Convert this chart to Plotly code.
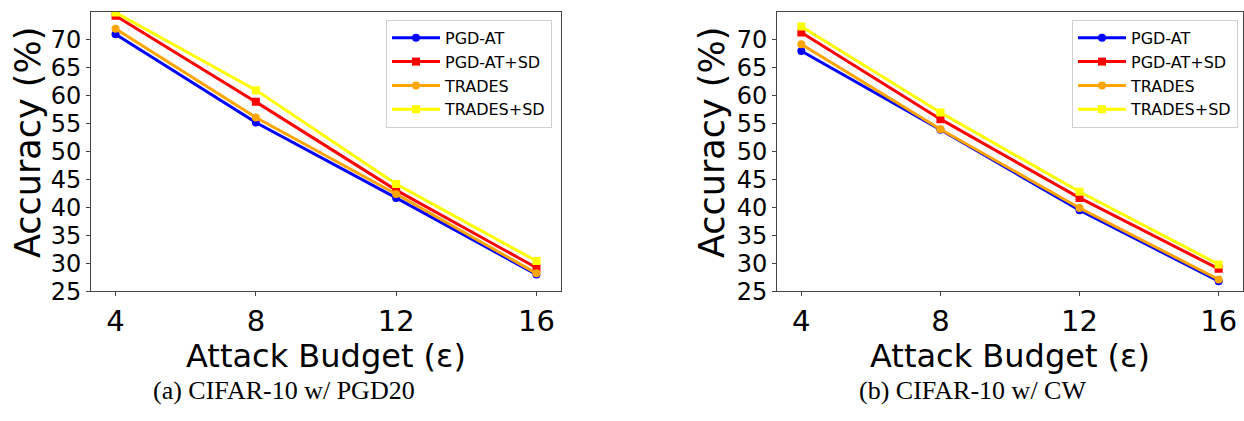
import plotly.graph_objects as go

budgets = [4, 8, 12, 16]
series_names = ["PGD-AT", "PGD-AT+SD", "TRADES", "TRADES+SD"]
series_colors = ["#0000ff", "#ff0000", "#ffa500", "#ffff00"]
series_symbols = ["circle", "square", "circle", "square"]

# (a) CIFAR-10 w/ PGD20
pgd20_pgdat = [71.0, 55.2, 41.7, 28.0]
pgd20_pgdat_sd = [74.3, 58.9, 43.1, 29.2]
pgd20_trades = [72.0, 56.1, 42.4, 28.2]
pgd20_trades_sd = [74.9, 61.0, 44.2, 30.4]

# (b) CIFAR-10 w/ CW
cw_pgdat = [68.0, 53.9, 39.5, 26.8]
cw_pgdat_sd = [71.3, 55.8, 41.7, 29.0]
cw_trades = [69.2, 54.0, 39.9, 27.1]
cw_trades_sd = [72.4, 57.0, 42.8, 29.8]

y_ticks = [25, 30, 35, 40, 45, 50, 55, 60, 65, 70]
x_label = "Attack Budget (ε)"
y_label = "Accuracy (%)"
captions = ["(a) CIFAR-10 w/ PGD20", "(b) CIFAR-10 w/ CW"]

W, H = 1244, 421
HV = 409.5  # vertical reference used for placing elements


def py(px):
    return 1 - px / HV


fig = go.Figure()

panels = [
    ([pgd20_pgdat, pgd20_pgdat_sd, pgd20_trades, pgd20_trades_sd], "x", "y", "legend"),
    ([cw_pgdat, cw_pgdat_sd, cw_trades, cw_trades_sd], "x2", "y2", "legend2"),
]
for data, xa, ya, lg in panels:
    for name, vals, col, sym in zip(series_names, data, series_colors, series_symbols):
        fig.add_trace(go.Scatter(
            x=budgets, y=vals, name=name, mode="lines+markers",
            line=dict(color=col, width=3),
            marker=dict(color=col, symbol=sym, size=8),
            xaxis=xa, yaxis=ya, legend=lg,
        ))

axis_common = dict(
    showline=True, linecolor="#444", linewidth=1, mirror=True,
    ticks="outside", ticklen=4, tickcolor="#444", showgrid=False, zeroline=False,
)
xdom1 = [91 / W, 561 / W]
xdom2 = [777 / W, 1243 / W]
ydom = [py(293), py(12)]

legend_common = dict(
    y=py(20), xanchor="right", yanchor="top",
    bgcolor="rgba(255,255,255,0.8)", bordercolor="#d0d0d0", borderwidth=1,
    font=dict(size=16), tracegroupgap=0, itemwidth=48,
)

fig.update_layout(
    width=W, height=H, autosize=False, margin=dict(l=0, r=0, t=0, b=0),
    paper_bgcolor="white", plot_bgcolor="white",
    font=dict(family="DejaVu Sans", color="black"),
    xaxis=dict(domain=xdom1, range=[3.3, 16.7], tickvals=budgets,
               tickfont=dict(size=29), anchor="y", **axis_common),
    yaxis=dict(domain=ydom, range=[25, 75], tickvals=y_ticks,
               tickfont=dict(size=24), anchor="x", **axis_common),
    xaxis2=dict(domain=xdom2, range=[3.3, 16.7], tickvals=budgets,
                tickfont=dict(size=29), anchor="y2", **axis_common),
    yaxis2=dict(domain=ydom, range=[25, 75], tickvals=y_ticks,
                tickfont=dict(size=24), anchor="x2", **axis_common),
    legend=dict(x=552 / W, **legend_common),
    legend2=dict(x=1238 / W, **legend_common),
    showlegend=True,
)

annotations = []
for xd, ycx, capx, cap in [(xdom1, 28, 284, captions[0]), (xdom2, 712, 972, captions[1])]:
    annotations.append(dict(text=x_label, x=(xd[0] + xd[1]) / 2, y=py(337),
                            xref="paper", yref="paper", showarrow=False,
                            xanchor="center", yanchor="top", font=dict(size=32)))
    annotations.append(dict(text=y_label, x=ycx / W, y=py(144),
                            xref="paper", yref="paper", showarrow=False, textangle=-90,
                            xanchor="center", yanchor="middle", font=dict(size=35)))
    annotations.append(dict(text=cap, x=capx / W, y=0,
                            xref="paper", yref="paper", showarrow=False,
                            xanchor="center", yanchor="bottom",
                            font=dict(size=26, family="Liberation Serif")))
fig.update_layout(annotations=annotations)

fig.write_html("out.html")
